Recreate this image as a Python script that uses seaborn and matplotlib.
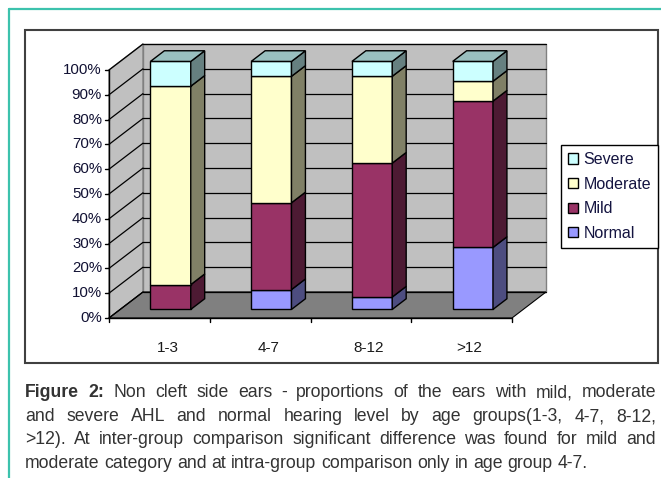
import numpy as np
import matplotlib
matplotlib.use('Agg')
import matplotlib.pyplot as plt
import matplotlib.colors as mcolors
from matplotlib.patches import Polygon, Rectangle, Patch
import seaborn as sns

# Data (percent of ears per age group)
age_groups = ['1-3', '4-7', '8-12', '>12']
levels = ['Normal', 'Mild', 'Moderate', 'Severe']
normal = [0, 8, 5, 25]
mild = [10, 35, 54, 59]
moderate = [80, 51, 35, 8]
severe = [10, 6, 6, 8]
y_ticks = list(range(0, 101, 10))
level_colors = ['#9999FF', '#993366', '#FFFFCC', '#CCFFFF']

caption_lines = [
    [('Figure', 'bold'), ('2:', 'bold')] + [(w, 'normal') for w in
        'Non cleft side ears - proportions of the ears with mild, moderate'.split()],
    [(w, 'normal') for w in
        'and severe AHL and normal hearing level by age groups(1-3, 4-7, 8-12,'.split()],
    [(w, 'normal') for w in
        '>12). At inter-group comparison significant difference was found for mild and'.split()],
    [(w, 'normal') for w in
        'moderate category and at intra-group comparison only in age group 4-7.'.split()],
]

sns.set_theme(style='white')
plt.rcParams['font.family'] = ['Liberation Sans', 'DejaVu Sans']

W, H = 661, 478
fig = plt.figure(figsize=(W / 100, H / 100), dpi=100)
fig.patch.set_facecolor('white')


def fx(px):
    return px / W


def fy(py):
    return 1 - py / H


# one axes over the whole figure; data units: category index / percent (front plane)
X0_PX, CAT_PX = 109, 100.75
Y0_PX, PCT_PX = 318, 2.48
ax = fig.add_axes([0, 0, 1, 1])
ax.set_xlim((0 - X0_PX) / CAT_PX - 0.5, (W - X0_PX) / CAT_PX - 0.5)
ax.set_ylim((Y0_PX - H) / PCT_PX, Y0_PX / PCT_PX)
ax.set_axis_off()

# depth offset of the 3D box (full depth), in data units
DX = 34 / CAT_PX
DY = 26 / PCT_PX
d0, dw, bar_w = 0.33, 0.41, 0.4

# chart area frame and page border
ax.add_patch(Rectangle((fx(25), fy(363)), fx(658) - fx(25), (363 - 30) / H,
                       transform=ax.transAxes, fc='white', ec='#404040', lw=1.5, zorder=0))
ax.plot([fx(8.5), fx(8.5)], [fy(8.5), 0], transform=ax.transAxes,
        color='#3cc2ad', lw=1.6, clip_on=False)
ax.plot([fx(8.5), 1], [fy(8.5), fy(8.5)], transform=ax.transAxes,
        color='#3cc2ad', lw=1.6, clip_on=False)

x0, x1 = -0.5, len(age_groups) - 0.5
ax.add_patch(Polygon([(x0 + DX, DY), (x1 + DX, DY), (x1 + DX, 100 + DY), (x0 + DX, 100 + DY)],
                     fc='#C0C0C0', ec='#808080', lw=1, zorder=1))
ax.add_patch(Polygon([(x0, 0), (x0 + DX, DY), (x0 + DX, 100 + DY), (x0, 100)],
                     fc='#C0C0C0', ec='#808080', lw=1, zorder=1))
ax.add_patch(Polygon([(x0, 0), (x1, 0), (x1 + DX, DY), (x0 + DX, DY)],
                     fc='#808080', ec='black', lw=0.8, zorder=1))

# gridlines on back and side walls
for t in y_ticks:
    ax.plot([x0 + DX, x1 + DX], [t + DY, t + DY], color='black', lw=0.9, zorder=2)
    ax.plot([x0, x0 + DX], [t, t + DY], color='black', lw=0.9, zorder=2)

# axis lines, ticks and labels
ax.plot([x0, x0], [0, 100], color='black', lw=1, zorder=3)
ax.plot([x0, x1], [0, 0], color='black', lw=1, zorder=3)
for t in y_ticks:
    ax.plot([x0 - 4 / CAT_PX, x0], [t, t], color='black', lw=1, zorder=3)
    ax.text(x0 - 7 / CAT_PX, t, f'{t}%', ha='right', va='center',
            fontsize=10.8, color='#111133')
for k in range(len(age_groups) + 1):
    ax.plot([x0 + k, x0 + k], [0, -4 / PCT_PX], color='black', lw=1, zorder=3)
for i, g in enumerate(age_groups):
    ax.text(i + 0.08, -30 / PCT_PX, g, ha='center', va='center',
            fontsize=11, color='#1a1a1a')


def shade(c, f):
    r, g, b = mcolors.to_rgb(c)
    return (r * f, g * f, b * f)


# stacked 3D bars: front faces via ax.bar, side and top faces as polygons
xs = np.arange(len(age_groups)) + d0 * DX
bottoms = np.zeros(len(age_groups))
for vals, color in zip([normal, mild, moderate, severe], level_colors):
    vals = np.array(vals, dtype=float)
    m = vals > 0
    ax.bar(xs[m], vals[m], width=bar_w, bottom=bottoms[m] + d0 * DY,
           color=color, edgecolor='black', lw=1, zorder=5)
    for i in np.where(m)[0]:
        xr = xs[i] + bar_w / 2
        yb = bottoms[i] + d0 * DY
        yt = yb + vals[i]
        ax.add_patch(Polygon([(xr, yb), (xr + dw * DX, yb + dw * DY),
                              (xr + dw * DX, yt + dw * DY), (xr, yt)],
                             fc=shade(color, 0.5), ec='black', lw=1, zorder=5))
    bottoms += vals

for i in range(len(age_groups)):
    xl, xr = xs[i] - bar_w / 2, xs[i] + bar_w / 2
    yt = bottoms[i] + d0 * DY
    ax.add_patch(Polygon([(xl, yt), (xr, yt), (xr + dw * DX, yt + dw * DY),
                          (xl + dw * DX, yt + dw * DY)],
                         fc=shade(level_colors[-1], 0.75), ec='black', lw=1, zorder=5))

# legend
handles = [Patch(fc=c, ec='black', lw=1, label=l)
           for l, c in zip(levels[::-1], level_colors[::-1])]
leg = ax.legend(handles=handles, loc='upper left', bbox_to_anchor=(fx(561), fy(145)),
                bbox_transform=ax.transAxes, frameon=True, fancybox=False,
                edgecolor='black', framealpha=1, fontsize=11.5, labelcolor='#141440',
                handlelength=0.6, handleheight=0.6, handletextpad=0.35,
                labelspacing=0.6, borderpad=0.45, borderaxespad=0)
leg.get_frame().set_linewidth(1)

# justified caption
renderer = fig.canvas.get_renderer()
cap_left, cap_right = 25, 656
baselines = [397, 421, 444, 468]
cap_size = 12.7


def text_width(s, weight='normal'):
    t = fig.text(0, 0, s, fontsize=cap_size, fontweight=weight)
    w = t.get_window_extent(renderer).width
    t.remove()
    return w


space_w = text_width('x x') - text_width('xx')
for n, (line, base) in enumerate(zip(caption_lines, baselines)):
    widths = [text_width(w, wt) for w, wt in line]
    if n < len(caption_lines) - 1:
        gap = (cap_right - cap_left - sum(widths)) / (len(line) - 1)
    else:
        gap = space_w
    x = cap_left
    for (w, wt), wd in zip(line, widths):
        fig.text(fx(x), fy(base), w, fontsize=cap_size, fontweight=wt,
                 color='#333333', ha='left', va='baseline')
        x += wd + gap

fig.savefig('out.png', dpi=100, facecolor='white')
